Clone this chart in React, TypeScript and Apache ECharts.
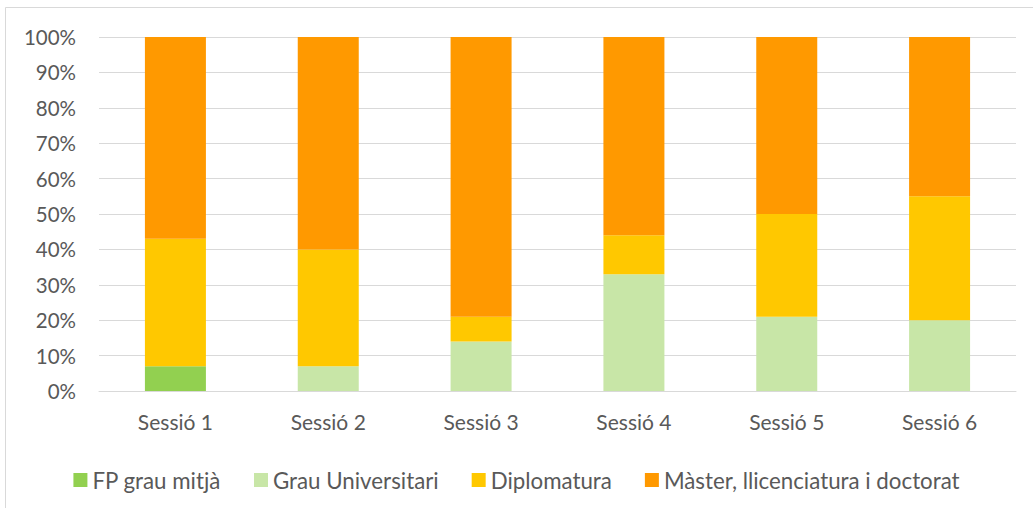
import React, { useEffect, useRef } from "react";
import * as echarts from "echarts";

const categories = ["Sessió 1", "Sessió 2", "Sessió 3", "Sessió 4", "Sessió 5", "Sessió 6"];
const seriesNames = ["FP grau mitjà", "Grau Universitari", "Diplomatura", "Màster, llicenciatura i doctorat"];
const fpGrauMitja = [7, 0, 0, 0, 0, 0];
const grauUniversitari = [0, 7, 14, 33, 21, 20];
const diplomatura = [36, 33, 7, 11, 29, 35];
const master = [57, 60, 79, 56, 50, 45];
const colors = ["#92d050", "#c8e6a7", "#ffc800", "#ff9900"];

export default function App() {
  const ref = useRef<HTMLDivElement>(null);
  useEffect(() => {
    document.body.style.margin = "0";
    if (!ref.current) return;
    const chart = echarts.init(ref.current, null, { renderer: "svg" });
    const font = "Lato, 'Open Sans', sans-serif";
    const data = [fpGrauMitja, grauUniversitari, diplomatura, master];
    chart.setOption({
      animation: false,
      backgroundColor: "#ffffff",
      textStyle: { fontFamily: font },
      graphic: [
        {
          type: "rect",
          shape: { x: 5.5, y: 7.5, width: 1040, height: 520 },
          style: { fill: "none", stroke: "#d9d9d9", lineWidth: 1 },
          silent: true,
        },
      ],
      grid: { left: 99, right: 17, top: 37, bottom: 117, containLabel: false },
      legend: {
        data: seriesNames,
        top: 464,
        left: "center",
        itemWidth: 14,
        itemHeight: 14,
        itemGap: 33,
        icon: "rect",
        textStyle: { color: "#595959", fontSize: 22.3, fontFamily: font },
      },
      xAxis: {
        type: "category",
        data: categories,
        axisLine: { lineStyle: { color: "#d9d9d9", width: 1 } },
        axisTick: { show: false },
        axisLabel: { color: "#595959", fontSize: 21, margin: 20, fontFamily: font },
      },
      yAxis: {
        type: "value",
        min: 0,
        max: 100,
        interval: 10,
        axisLine: { show: false },
        axisTick: { show: false },
        splitLine: { lineStyle: { color: "#d9d9d9", width: 1 } },
        axisLabel: { color: "#595959", fontSize: 20.5, margin: 23, formatter: "{value}%", fontFamily: font },
      },
      series: seriesNames.map((name, i) => ({
        name,
        type: "bar",
        stack: "total",
        barWidth: 61,
        data: data[i],
        itemStyle: { color: colors[i] },
      })),
    });
    return () => chart.dispose();
  }, []);
  return <div ref={ref} style={{ width: 1033, height: 508 }} />;
}
